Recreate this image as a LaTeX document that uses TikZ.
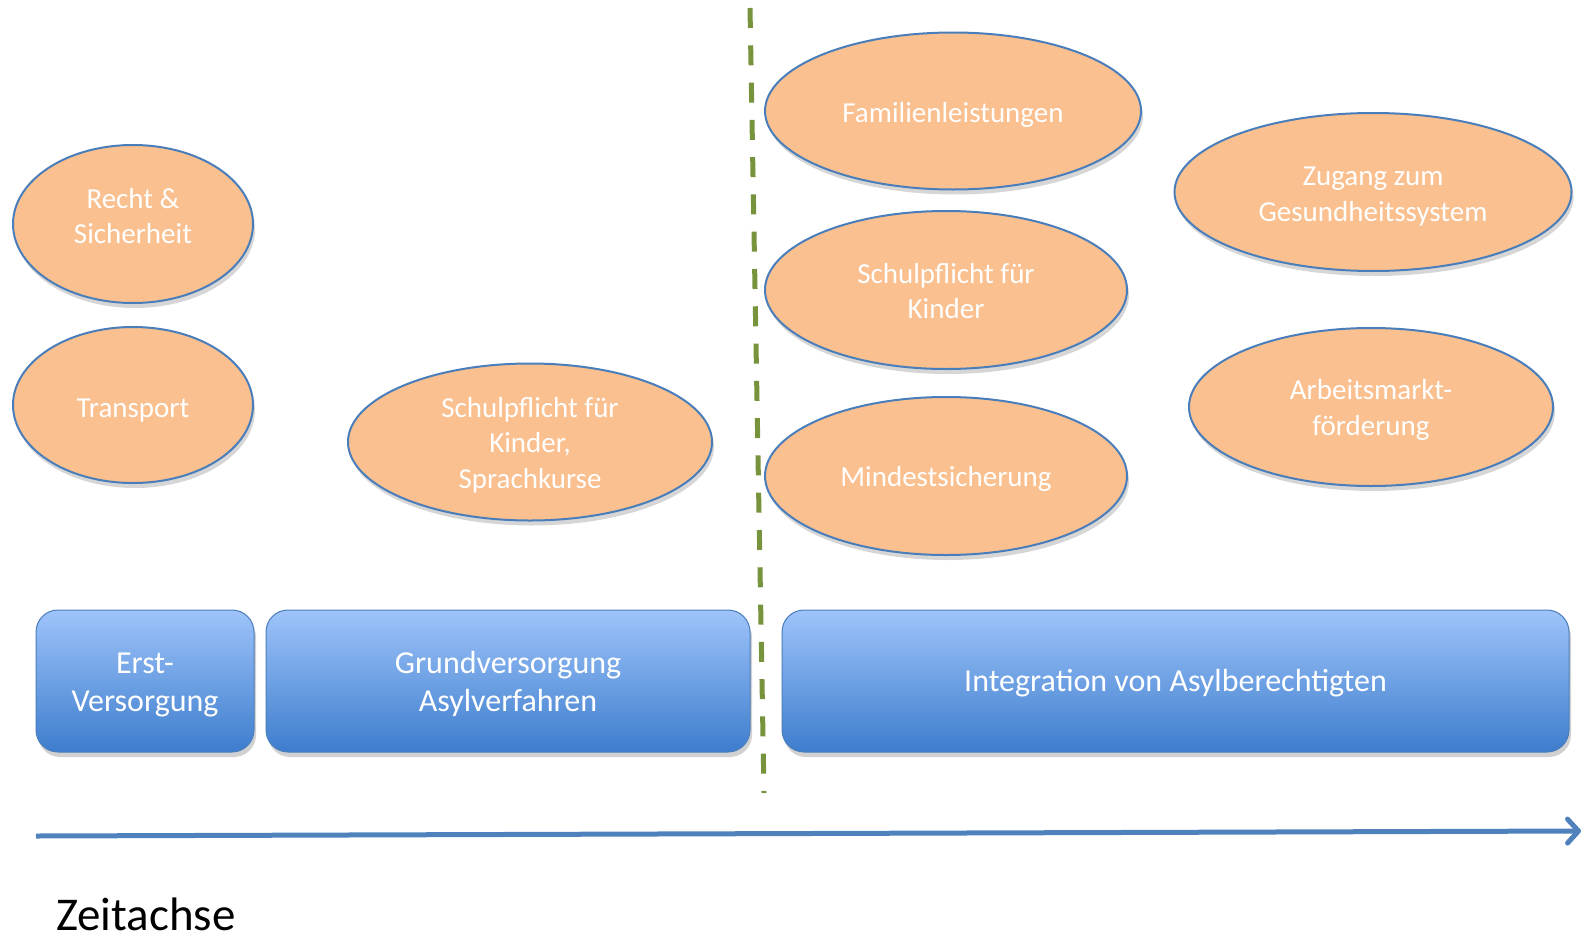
\documentclass[tikz,border=0pt]{standalone}
\usepackage{fontspec}
\setmainfont{Carlito}
\usetikzlibrary{shapes.geometric,shadows,arrows.meta}
\definecolor{peach}{RGB}{250,192,143}
\definecolor{eborder}{RGB}{74,126,187}
\definecolor{btop}{RGB}{158,196,250}
\definecolor{bbot}{RGB}{62,125,205}
\definecolor{dgreen}{RGB}{119,147,60}
\definecolor{axiscol}{RGB}{79,129,189}
\begin{document}
\begin{tikzpicture}[x=1pt,y=-1pt,
  bub/.style={ellipse, draw=eborder, line width=2pt, fill=peach, inner sep=0pt,
    drop shadow={shadow xshift=2pt, shadow yshift=-5pt, opacity=0.16, fill=black}},
  btext/.style={text=white, font=\fontsize{29}{35.4}\selectfont, align=center, inner sep=0pt},
  phase/.style={rectangle, rounded corners=22pt, draw=eborder, line width=1pt,
    top color=btop, bottom color=bbot, inner sep=0pt,
    drop shadow={shadow xshift=2pt, shadow yshift=-5pt, opacity=0.18, fill=black}},
  ptext/.style={text=white, font=\fontsize{32}{38.4}\selectfont, align=center, inner sep=0pt},
  divider/.style={draw=dgreen, line width=5pt, dash pattern=on 20pt off 17.29pt},
  timeaxis/.style={draw=axiscol, line width=5pt,
    -{Straight Barb[length=11pt,width=24pt,line cap=round,line join=round]}}
]
\useasboundingbox (0,0) rectangle (1584,937);

% divider
\coordinate (d0) at (750,8);
\coordinate (d1) at (764,793);
\draw[divider] (d0) -- (d1);

% ellipses
\node[bub, minimum width=240pt, minimum height=158pt] (recht) at (133,224) {};
\node[btext] (recht-t) at ([yshift=8pt]recht.center) {Recht \&\\Sicherheit};
\node[bub, minimum width=240pt, minimum height=156pt] (transport) at (133,405) {};
\node[btext] (transport-t) at ([yshift=-6pt]transport.center) {Transport};
\node[bub, minimum width=364pt, minimum height=157pt] (schul1) at (530,442) {};
\node[btext] (schul1-t) at ([yshift=-3pt]schul1.center) {Schulpflicht für\\Kinder,\\Sprachkurse};
\node[bub, minimum width=376pt, minimum height=157pt] (familie) at (953,111) {};
\node[btext] (familie-t) at ([yshift=-4pt]familie.center) {Familienleistungen};
\node[bub, minimum width=362pt, minimum height=158pt] (schul2) at (946,290) {};
\node[btext] (schul2-t) at ([yshift=-1pt]schul2.center) {Schulpflicht für\\Kinder};
\node[bub, minimum width=362pt, minimum height=158pt] (mindest) at (946,476) {};
\node[btext] (mindest-t) at ([yshift=-3pt]mindest.center) {Mindestsicherung};
\node[bub, minimum width=397pt, minimum height=158pt] (gesund) at (1373,192) {};
\node[btext] (gesund-t) at ([yshift=-4.5pt]gesund.center) {Zugang zum\\Gesundheitssystem};
\node[bub, minimum width=364pt, minimum height=158pt] (arbeit) at (1371,407) {};
\node[btext] (arbeit-t) at ([yshift=-3pt]arbeit.center) {Arbeitsmarkt-\\förderung};

% phase boxes
\node[phase, minimum width=218pt, minimum height=142pt] (erst) at (145,681) {};
\node[ptext] (erst-t) at ([yshift=-4pt]erst.center) {Erst-\\Versorgung};
\node[phase, minimum width=484pt, minimum height=142pt] (grund) at (508,681) {};
\node[ptext] (grund-t) at ([yshift=-3pt]grund.center) {Grundversorgung\\Asylverfahren};
\node[phase, minimum width=787pt, minimum height=142pt] (integ) at (1175.5,681) {};
\node[ptext] (integ-t) at ([yshift=-2pt]integ.center) {Integration von Asylberechtigten};

% time axis
\coordinate (t0) at (36,836);
\coordinate (t1) at (1581,831);
\draw[timeaxis] (t0) -- (t1);

\node[anchor=west, inner sep=0pt, font=\fontsize{47}{56}\selectfont, text=black] (zeit) at (56,914) {Zeitachse};
\end{tikzpicture}
\end{document}
